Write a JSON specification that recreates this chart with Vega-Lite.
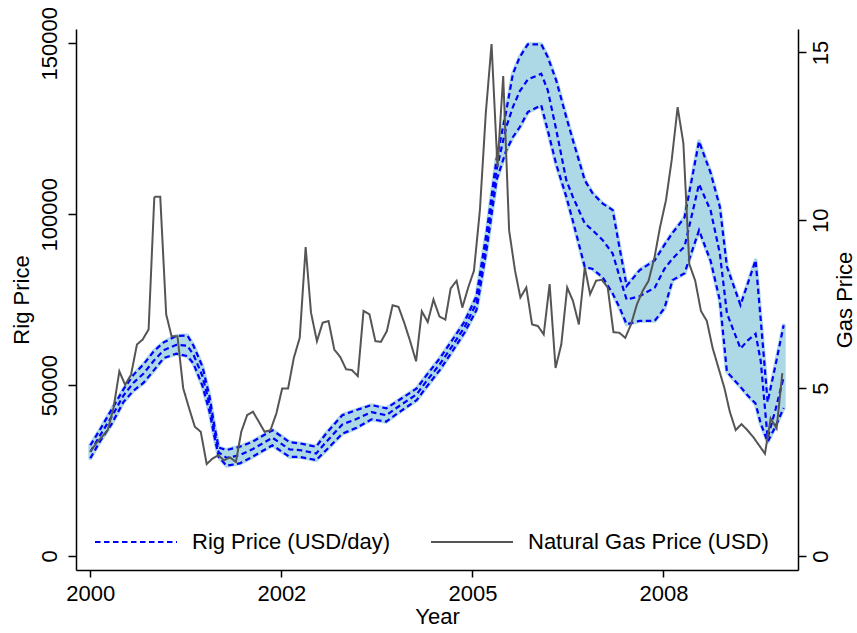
{
  "$schema": "https://vega.github.io/schema/vega-lite/v6.json",
  "width": 722,
  "height": 541,
  "autosize": {"type": "none"},
  "padding": {"left": 76, "top": 29, "right": 59, "bottom": 63},
  "background": "white",
  "config": {
    "font": "Liberation Sans",
    "view": {"stroke": null},
    "axis": {
      "grid": false,
      "domainColor": "black",
      "tickColor": "black",
      "labelColor": "black",
      "titleColor": "black",
      "labelFontSize": 22,
      "titleFontSize": 22,
      "titleFontWeight": "normal",
      "labelFont": "Liberation Sans",
      "titleFont": "Liberation Sans",
      "domainWidth": 1.5,
      "tickWidth": 1.5,
      "labelFlush": false,
      "labelOverlap": false
    }
  },
  "datasets": {
    "rig": [
      {"date": "2000-01-01", "lo": 28600, "mid": 30500, "hi": 32400},
      {"date": "2000-02-19", "lo": 33400, "mid": 35100, "hi": 36800},
      {"date": "2000-04-21", "lo": 38600, "mid": 40700, "hi": 42800},
      {"date": "2000-06-23", "lo": 45100, "mid": 47000, "hi": 48800},
      {"date": "2000-08-14", "lo": 48400, "mid": 50700, "hi": 53000},
      {"date": "2000-10-06", "lo": 50700, "mid": 53400, "hi": 56100},
      {"date": "2000-11-28", "lo": 54300, "mid": 57100, "hi": 59900},
      {"date": "2001-01-19", "lo": 57900, "mid": 60200, "hi": 62500},
      {"date": "2001-03-26", "lo": 59200, "mid": 61800, "hi": 64350},
      {"date": "2001-05-23", "lo": 58500, "mid": 61500, "hi": 64500},
      {"date": "2001-06-24", "lo": 56300, "mid": 58900, "hi": 61500},
      {"date": "2001-08-10", "lo": 49800, "mid": 52600, "hi": 55400},
      {"date": "2001-09-16", "lo": 42200, "mid": 44400, "hi": 46600},
      {"date": "2001-10-12", "lo": 34800, "mid": 36300, "hi": 37800},
      {"date": "2001-11-03", "lo": 29000, "mid": 30300, "hi": 31700},
      {"date": "2001-12-14", "lo": 26400, "mid": 28700, "hi": 31000},
      {"date": "2002-02-21", "lo": 27100, "mid": 29500, "hi": 31960},
      {"date": "2002-04-28", "lo": 29000, "mid": 31200, "hi": 33400},
      {"date": "2002-08-11", "lo": 32400, "mid": 34600, "hi": 36800},
      {"date": "2002-11-09", "lo": 29000, "mid": 31200, "hi": 33300},
      {"date": "2003-01-01", "lo": 29000, "mid": 31000, "hi": 32950},
      {"date": "2003-03-28", "lo": 28070, "mid": 30000, "hi": 31960},
      {"date": "2003-05-20", "lo": 31000, "mid": 33400, "hi": 35900},
      {"date": "2003-08-12", "lo": 35800, "mid": 38500, "hi": 41200},
      {"date": "2003-10-25", "lo": 37500, "mid": 40100, "hi": 42700},
      {"date": "2004-01-12", "lo": 40000, "mid": 42100, "hi": 44150},
      {"date": "2004-03-29", "lo": 39300, "mid": 41200, "hi": 43200},
      {"date": "2004-05-21", "lo": 41500, "mid": 43300, "hi": 45100},
      {"date": "2004-09-04", "lo": 45600, "mid": 47300, "hi": 49000},
      {"date": "2004-10-26", "lo": 49500, "mid": 51200, "hi": 52900},
      {"date": "2005-01-03", "lo": 54400, "mid": 56100, "hi": 57800},
      {"date": "2005-03-10", "lo": 59900, "mid": 61500, "hi": 63200},
      {"date": "2005-05-12", "lo": 65300, "mid": 66900, "hi": 68500},
      {"date": "2005-07-14", "lo": 72000, "mid": 74000, "hi": 76000},
      {"date": "2005-09-06", "lo": 90000, "mid": 92500, "hi": 95000},
      {"date": "2005-10-27", "lo": 110000, "mid": 113000, "hi": 116000},
      {"date": "2005-12-17", "lo": 118700, "mid": 125500, "hi": 130200},
      {"date": "2006-01-21", "lo": 122600, "mid": 131400, "hi": 141100},
      {"date": "2006-02-26", "lo": 125500, "mid": 136000, "hi": 146000},
      {"date": "2006-04-09", "lo": 129900, "mid": 139400, "hi": 149700},
      {"date": "2006-06-18", "lo": 131900, "mid": 141100, "hi": 149700},
      {"date": "2006-07-22", "lo": 124600, "mid": 136300, "hi": 146000},
      {"date": "2006-09-05", "lo": 114500, "mid": 124600, "hi": 139000},
      {"date": "2006-10-27", "lo": 105200, "mid": 110000, "hi": 128400},
      {"date": "2006-12-01", "lo": 98000, "mid": 105000, "hi": 121600},
      {"date": "2007-02-01", "lo": 84600, "mid": 97300, "hi": 109900},
      {"date": "2007-03-14", "lo": 84000, "mid": 95300, "hi": 106100},
      {"date": "2007-05-06", "lo": 81500, "mid": 92400, "hi": 103100},
      {"date": "2007-06-27", "lo": 76800, "mid": 88500, "hi": 101200},
      {"date": "2007-08-02", "lo": 72700, "mid": 81700, "hi": 90100},
      {"date": "2007-09-08", "lo": 67800, "mid": 75000, "hi": 79000},
      {"date": "2007-11-15", "lo": 68800, "mid": 76000, "hi": 83600},
      {"date": "2008-02-02", "lo": 68800, "mid": 78500, "hi": 86500},
      {"date": "2008-03-24", "lo": 72500, "mid": 84000, "hi": 91000},
      {"date": "2008-05-05", "lo": 80700, "mid": 87000, "hi": 94500},
      {"date": "2008-07-07", "lo": 82700, "mid": 90500, "hi": 99000},
      {"date": "2008-09-21", "lo": 95300, "mid": 108800, "hi": 121300},
      {"date": "2008-11-21", "lo": 86300, "mid": 101000, "hi": 112000},
      {"date": "2009-01-08", "lo": 74800, "mid": 88500, "hi": 102100},
      {"date": "2009-02-14", "lo": 53900, "mid": 71000, "hi": 84600},
      {"date": "2009-04-26", "lo": 49500, "mid": 60700, "hi": 73400},
      {"date": "2009-06-02", "lo": 47000, "mid": 63000, "hi": 79500},
      {"date": "2009-07-14", "lo": 44600, "mid": 65000, "hi": 86500},
      {"date": "2009-08-10", "lo": 38800, "mid": 57000, "hi": 69000},
      {"date": "2009-09-15", "lo": 33400, "mid": 34500, "hi": 45000},
      {"date": "2009-10-27", "lo": 38000, "mid": 43000, "hi": 56000},
      {"date": "2009-12-08", "lo": 43300, "mid": 52300, "hi": 67500}
    ],
    "gas": [
      {"date": "2000-01-01", "gas": 3.1},
      {"date": "2000-02-01", "gas": 3.36},
      {"date": "2000-03-01", "gas": 3.54},
      {"date": "2000-04-01", "gas": 3.75},
      {"date": "2000-05-01", "gas": 4.4},
      {"date": "2000-06-01", "gas": 5.5},
      {"date": "2000-07-01", "gas": 5.1},
      {"date": "2000-08-01", "gas": 5.4},
      {"date": "2000-09-01", "gas": 6.3},
      {"date": "2000-10-01", "gas": 6.45},
      {"date": "2000-11-01", "gas": 6.75},
      {"date": "2000-12-01", "gas": 10.7},
      {"date": "2001-01-01", "gas": 10.7},
      {"date": "2001-02-01", "gas": 7.2},
      {"date": "2001-03-01", "gas": 6.55},
      {"date": "2001-04-01", "gas": 6.55},
      {"date": "2001-05-01", "gas": 5.0},
      {"date": "2001-06-01", "gas": 4.4},
      {"date": "2001-07-01", "gas": 3.85},
      {"date": "2001-08-01", "gas": 3.7},
      {"date": "2001-09-01", "gas": 2.74},
      {"date": "2001-10-01", "gas": 2.9},
      {"date": "2001-11-01", "gas": 3.0},
      {"date": "2001-12-01", "gas": 2.85},
      {"date": "2002-01-01", "gas": 2.94},
      {"date": "2002-02-01", "gas": 2.8},
      {"date": "2002-03-01", "gas": 3.7},
      {"date": "2002-04-01", "gas": 4.2},
      {"date": "2002-05-01", "gas": 4.3},
      {"date": "2002-06-01", "gas": 4.0},
      {"date": "2002-07-01", "gas": 3.7},
      {"date": "2002-08-01", "gas": 3.75},
      {"date": "2002-09-01", "gas": 4.25},
      {"date": "2002-10-01", "gas": 4.99},
      {"date": "2002-11-01", "gas": 4.99},
      {"date": "2002-12-01", "gas": 5.9},
      {"date": "2003-01-01", "gas": 6.5},
      {"date": "2003-02-01", "gas": 9.2},
      {"date": "2003-03-01", "gas": 7.25},
      {"date": "2003-04-01", "gas": 6.4},
      {"date": "2003-05-01", "gas": 6.95},
      {"date": "2003-06-01", "gas": 7.0},
      {"date": "2003-07-01", "gas": 6.15},
      {"date": "2003-08-01", "gas": 5.93},
      {"date": "2003-09-01", "gas": 5.56},
      {"date": "2003-10-01", "gas": 5.54},
      {"date": "2003-11-01", "gas": 5.36},
      {"date": "2003-12-01", "gas": 7.3},
      {"date": "2004-01-01", "gas": 7.2},
      {"date": "2004-02-01", "gas": 6.4},
      {"date": "2004-03-01", "gas": 6.38},
      {"date": "2004-04-01", "gas": 6.7},
      {"date": "2004-05-01", "gas": 7.47},
      {"date": "2004-06-01", "gas": 7.42},
      {"date": "2004-07-01", "gas": 6.95},
      {"date": "2004-08-01", "gas": 6.4},
      {"date": "2004-09-01", "gas": 5.8},
      {"date": "2004-10-01", "gas": 7.29},
      {"date": "2004-11-01", "gas": 6.97},
      {"date": "2004-12-01", "gas": 7.64},
      {"date": "2005-01-01", "gas": 7.14},
      {"date": "2005-02-01", "gas": 7.04},
      {"date": "2005-03-01", "gas": 7.97},
      {"date": "2005-04-01", "gas": 8.2},
      {"date": "2005-05-01", "gas": 7.4},
      {"date": "2005-06-01", "gas": 8.0},
      {"date": "2005-07-01", "gas": 8.5},
      {"date": "2005-08-01", "gas": 10.3},
      {"date": "2005-09-01", "gas": 13.2},
      {"date": "2005-10-01", "gas": 15.25},
      {"date": "2005-11-01", "gas": 11.6},
      {"date": "2005-12-01", "gas": 14.3},
      {"date": "2006-01-01", "gas": 9.7},
      {"date": "2006-02-01", "gas": 8.5},
      {"date": "2006-03-01", "gas": 7.7},
      {"date": "2006-04-01", "gas": 8.0},
      {"date": "2006-05-01", "gas": 6.9},
      {"date": "2006-06-01", "gas": 6.85},
      {"date": "2006-07-01", "gas": 6.6},
      {"date": "2006-08-01", "gas": 8.1},
      {"date": "2006-09-01", "gas": 5.6},
      {"date": "2006-10-01", "gas": 6.3},
      {"date": "2006-11-01", "gas": 8.0},
      {"date": "2006-12-01", "gas": 7.6},
      {"date": "2007-01-01", "gas": 6.9},
      {"date": "2007-02-01", "gas": 8.6},
      {"date": "2007-03-01", "gas": 7.8},
      {"date": "2007-04-01", "gas": 8.2},
      {"date": "2007-05-01", "gas": 8.23},
      {"date": "2007-06-01", "gas": 8.0},
      {"date": "2007-07-01", "gas": 6.67},
      {"date": "2007-08-01", "gas": 6.65},
      {"date": "2007-09-01", "gas": 6.5},
      {"date": "2007-10-01", "gas": 6.9},
      {"date": "2007-11-01", "gas": 7.5},
      {"date": "2007-12-01", "gas": 7.9},
      {"date": "2008-01-01", "gas": 8.2},
      {"date": "2008-02-01", "gas": 8.9},
      {"date": "2008-03-01", "gas": 9.8},
      {"date": "2008-04-01", "gas": 10.6},
      {"date": "2008-05-01", "gas": 11.8},
      {"date": "2008-06-01", "gas": 13.37},
      {"date": "2008-07-01", "gas": 12.3},
      {"date": "2008-08-01", "gas": 8.7},
      {"date": "2008-09-01", "gas": 8.2},
      {"date": "2008-10-01", "gas": 7.3},
      {"date": "2008-11-01", "gas": 7.0},
      {"date": "2008-12-01", "gas": 6.2},
      {"date": "2009-01-01", "gas": 5.6},
      {"date": "2009-02-01", "gas": 5.0},
      {"date": "2009-03-01", "gas": 4.3},
      {"date": "2009-04-01", "gas": 3.75},
      {"date": "2009-05-01", "gas": 3.93},
      {"date": "2009-06-01", "gas": 3.75},
      {"date": "2009-07-01", "gas": 3.55},
      {"date": "2009-08-01", "gas": 3.3},
      {"date": "2009-09-01", "gas": 3.05},
      {"date": "2009-10-01", "gas": 4.1},
      {"date": "2009-11-01", "gas": 3.8},
      {"date": "2009-12-01", "gas": 5.45}
    ]
  },
  "layer": [
    {
      "data": {"name": "rig"},
      "layer": [
        {
          "mark": {"type": "area", "color": "#add8e6", "stroke": "#add8e6", "strokeWidth": 4, "strokeJoin": "round"},
          "encoding": {
            "x": {
              "field": "date", "type": "temporal",
              "scale": {"type": "utc", "domain": [{"year": 1999, "month": 10, "date": 18, "utc": true}, {"year": 2010, "month": 2, "date": 21, "utc": true}]},
              "axis": {
                "values": [{"year": 2000, "month": 1, "date": 1, "utc": true}, {"year": 2002, "month": 9, "date": 27, "utc": true}, {"year": 2005, "month": 6, "date": 23, "utc": true}, {"year": 2008, "month": 3, "date": 19, "utc": true}],
                "labelExpr": "utcFormat(datum.value, '%Y')", "title": "Year", "tickSize": 7, "labelPadding": 6, "titlePadding": 2
              }
            },
            "y": {
              "field": "lo", "type": "quantitative",
              "scale": {"domain": [-4096, 154180], "nice": false, "zero": false},
              "axis": {"orient": "left", "values": [0, 50000, 100000, 150000], "format": "d", "title": "Rig Price", "tickSize": 8, "labelAngle": -90, "labelAlign": "center", "labelBaseline": "bottom", "labelPadding": 7, "titlePadding": 5}
            },
            "y2": {"field": "hi"}
          }
        },
        {
          "transform": [{"fold": ["lo", "mid", "hi"], "as": ["bound", "rig"]}],
          "mark": {"type": "line", "strokeWidth": 2.2},
          "encoding": {
            "x": {"field": "date", "type": "temporal"},
            "y": {"field": "rig", "type": "quantitative"},
            "detail": {"field": "bound", "type": "nominal"},
            "color": {
              "datum": "Rig Price (USD/day)",
              "scale": {"domain": ["Rig Price (USD/day)", "Natural Gas Price (USD)"], "range": ["#0000ff", "#555555"]},
              "legend": {"title": null, "orient": "none", "legendX": 18, "legendY": 471, "direction": "horizontal", "symbolType": "stroke", "symbolSize": 6724, "symbolStrokeWidth": 2, "labelFontSize": 22, "labelFont": "Liberation Sans", "labelColor": "black", "labelOffset": 14, "columnPadding": 36, "padding": 0, "labelLimit": 500}
            },
            "strokeDash": {
              "datum": "Rig Price (USD/day)",
              "scale": {"domain": ["Rig Price (USD/day)", "Natural Gas Price (USD)"], "range": [[5.5, 3.5], [1, 0]]},
              "legend": {"title": null, "orient": "none", "legendX": 18, "legendY": 471, "direction": "horizontal", "symbolType": "stroke", "symbolSize": 6724, "symbolStrokeWidth": 2, "labelFontSize": 22, "labelFont": "Liberation Sans", "labelColor": "black", "labelOffset": 14, "columnPadding": 36, "padding": 0, "labelLimit": 500}
            }
          }
        }
      ]
    },
    {
      "data": {"name": "gas"},
      "mark": {"type": "line", "strokeWidth": 2},
      "encoding": {
        "x": {"field": "date", "type": "temporal"},
        "y": {
          "field": "gas", "type": "quantitative",
          "scale": {"domain": [-0.417, 15.7], "nice": false, "zero": false},
          "axis": {"orient": "right", "values": [0, 5, 10, 15], "title": "Gas Price", "tickSize": 8, "labelAngle": -90, "labelAlign": "center", "labelBaseline": "top", "labelPadding": 4, "titleAngle": -90, "titleBaseline": "top", "titlePadding": 3}
        },
        "color": {"datum": "Natural Gas Price (USD)"},
        "strokeDash": {"datum": "Natural Gas Price (USD)"}
      }
    }
  ],
  "resolve": {"scale": {"y": "independent"}}
}
